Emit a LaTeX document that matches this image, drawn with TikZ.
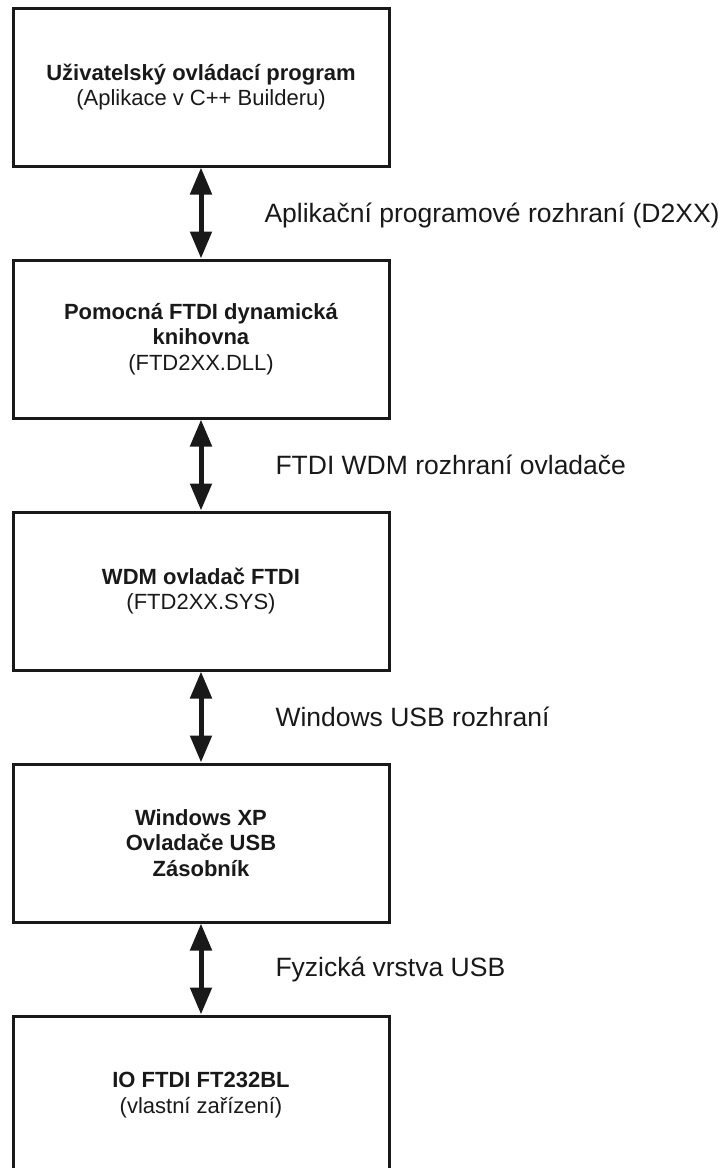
\documentclass[tikz,border=0pt]{standalone}
\usepackage{fontspec}
\setmainfont{Liberation Sans}
\usetikzlibrary{arrows.meta,positioning}
\definecolor{ink}{gray}{0.1}

\begin{document}
\begin{tikzpicture}[<->,>={Triangle[width=21pt,length=27pt]},line width=5pt,
                    draw=ink,node distance=252pt,
                    layer/.style={rectangle,draw=ink,line width=3pt,text=ink,
                      minimum width=376pt,minimum height=158pt,align=center,
                      font=\fontsize{22}{25.5}\selectfont},
                    iface/.style={anchor=west,inner sep=0pt,xshift=72pt,text=ink,
                      font=\fontsize{26.5}{30}\selectfont}]
\useasboundingbox (0,0) rectangle (721pt,-1168pt);
\clip (0,0) rectangle (721pt,-1168pt);
% Create the layers of the driver stack
\node[layer] (app) at (201pt,-87pt) {\textbf{Uživatelský ovládací program}\\(Aplikace v C++ Builderu)};
\node[layer] (dll) [below of=app] {\textbf{Pomocná FTDI dynamická}\\\textbf{knihovna}\\(FTD2XX.DLL)};
\node[layer] (sys) [below of=dll] {\textbf{WDM ovladač FTDI}\\(FTD2XX.SYS)};
\node[layer] (usbd) [below of=sys] {\textbf{Windows XP}\\\textbf{Ovladače USB}\\\textbf{Zásobník}};
\node[layer] (chip) [below of=usbd] {\textbf{IO FTDI FT232BL}\\(vlastní zařízení)};

% Create the interfaces between them
\path
(app) edge node [iface,xshift=-11pt,yshift=-2pt] {Aplikační programové rozhraní (D2XX)} (dll)
(dll) edge node [iface] {FTDI WDM rozhraní ovladače} (sys)
(sys) edge node [iface] {Windows USB rozhraní} (usbd)
(usbd) edge node [iface] {Fyzická vrstva USB} (chip);
\end{tikzpicture}
\end{document}
